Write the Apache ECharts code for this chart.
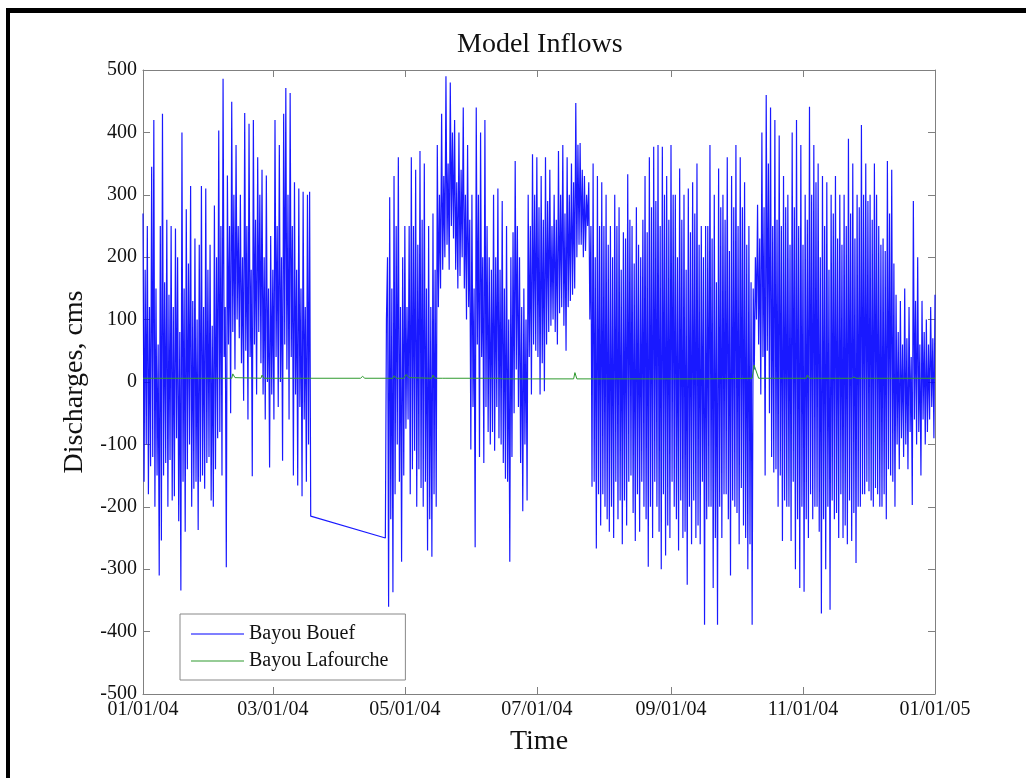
<!DOCTYPE html>
<html>
<head>
<meta charset="utf-8">
<script src="https://cdn.jsdelivr.net/npm/echarts@6/dist/echarts.min.js"></script>
<style>
html,body{margin:0;padding:0;background:#fff;}
#chart{width:1026px;height:778px;}
</style>
</head>
<body>
<div id="chart"></div>
<script>
// ---- data ----
const startYear = 2004;
const tickMonths = [[2004,0],[2004,2],[2004,4],[2004,6],[2004,8],[2004,10],[2005,0]];
const tickLabels = ['01/01/04','03/01/04','05/01/04','07/01/04','09/01/04','11/01/04','01/01/05'];
const yTicks = [-500,-400,-300,-200,-100,0,100,200,300,400,500];

// Bayou Bouef, values every half day (daily high, daily low)
const stepDays = 0.5;
// segment 1 starts day 0 (Jan 1)
const boeufSeg1Start = 0;
const boeufSeg1 = [
270,-160, 180,-100, 250,-180, 120,-135, 345,-120, 420,-200, 150,-150, 60,-310, 250,-254, 430,-150,
160,-130, 260,-200, 140,-125, 250,-190, 120,-183, 246,-90, 200,-223, 80,-334, 400,-160, 150,-240,
277,-140, 190,-100, 314,-200, 130,-171, 230,-160, 100,-237, 220,-160, 314,-150, 120,-171, 310,-130,
180,-120, 220,-190, 90,-200, 283,-140, 200,-90, 403,-80, 250,-150, 486,40, 120,-297, 331,60,
250,-50, 449,80, 300,20, 380,100, 250,70, 300,30, 200,-30, 431,50, 250,-60, 414,40,
180,-151, 420,60, 260,-20, 360,80, 300,30, 340,-20, 200,-60, 331,0, 150,-137, 234,-20,
180,-60, 420,40, 250,-40, 380,0, 200,-126, 430,60, 471,20, 300,-60, 463,40, 250,-150,
320,-20, 180,-166, 310,-40, 150,-183, 305,-60, 120,-160, 300,-100, 305,-215];
// segment 2 starts day 112 (Apr 22)
const boeufSeg2Start = 112;
const boeufSeg2 = [
-250,100, 200,-360, 296,-220, 150,-337, 330,-180, 250,-100, 360,-160, 120,-288, 200,-150, 250,-75,
120,-60, 250,-180, 360,-140, 250,-110, 340,-200, 220,-140, 370,-170, 260,-200, 350,-160, 150,-270,
250,-220, 120,-280, 270,-180, 180,-200, 380,120, 300,150, 430,180, 330,200, 490,220, 350,180,
480,250, 400,230, 420,180, 320,150, 400,170, 340,200, 440,150, 300,100, 380,120, 260,-108,
300,-40, 150,-265, 440,60, 300,-120, 400,40, 200,-130, 420,-40, 250,-80, 200,-100, 180,-80,
300,-110, 200,-40, 310,-90, 180,-100, 290,-130, 150,-155, 250,-160, 100,-288, 200,-120, 240,-50,
354,20, 250,-40, 200,-130, 120,-207, 150,-100, 100,-190, 300,40, 250,-20, 365,60, 300,50,
360,40, 280,-20, 330,30, 260,-15, 360,60, 290,80, 340,90, 250,100, 300,80, 260,60,
370,110, 300,120, 380,90, 270,50, 360,120, 300,130, 350,140, 320,150, 447,200, 380,220,
383,220, 340,200, 330,210, 300,250, 320,100, 250,-168, 350,-160, 200,-267, 330,-180, 250,-230,
320,-180, 250,-200, 300,-220, 220,-240, 250,-200, 200,-250, 300,-160, 250,-220, 280,-190, 180,-260,
240,-190, 230,-230, 333,-160, 260,-150, 250,-210, 190,-255, 280,-180, 220,-240, 200,-160, 260,-200,
330,-220, 240,-296, 360,-200, 280,-250, 377,-160, 290,-200, 380,-240, 250,-300, 377,-180, 300,-278,
330,-230, 260,-250, 380,-160, 300,-200, 300,-220, 200,-270, 342,-190, 260,-250, 300,-240, 180,-325,
310,-200, 240,-260, 320,-190, 270,-250, 350,-230, 220,-260, 250,-160, 200,-389, 250,-220, 250,-200,
380,-200, 230,-330, 300,-250, 160,-389, 342,-200, 280,-250, 300,-180, 260,-180, 360,-220, 210,-310,
330,-190, 280,-200, 380,-210, 250,-260, 360,-170, 280,-230, 320,-250, 220,-300, 250,-260, 160,-389,
150,20, 200,100, 284,60, 230,-20, 400,40, 280,-150, 460,50, 350,-50, 440,-120, 250,-145,
420,-140, 260,-200, 395,-150, 250,-255, 330,-190, 280,-200, 300,-200, 220,-255, 400,-160, 280,-300,
420,-220, 250,-330, 380,-200, 220,-336, 300,-220, 260,-250, 441,-180, 300,-220, 380,-200, 320,-200,
350,-240, 200,-371, 330,-220, 250,-300, 320,-200, 180,-365, 300,-190, 270,-220, 330,-210, 230,-250,
300,-180, 220,-250, 300,-230, 250,-260, 390,-190, 270,-255, 350,-210, 230,-290, 300,-200, 280,-200,
412,-180, 300,-180, 350,-160, 290,-175, 300,-190, 260,-200, 350,-170, 300,-180, 250,-200, 220,-200,
230,-180, 210,-220, 354,-140, 270,-150, 340,-160, 190,-200, 140,-100, 80,-140, 130,-90, 60,-120,
150,-100, 70,-140, 120,-80, 40,-197, 290,-60, 130,-100, 200,-80, 60,-150, 130,-60, 80,-100,
100,-80, 60,-60, 120,-40, 70,-90, 140];

// Bayou Lafourche: day offsets and values
const lafDays   = [0, 20, 36, 36.5, 37.5, 41, 41.5, 42.5, 54.5, 55, 56, 77, 100.5, 101.5, 102.5, 115.5, 116, 117, 120.5, 121.5, 123, 133.5, 134, 135, 138.5, 139, 140, 153.5, 154, 155, 164.5, 165, 166, 180, 199, 199.6, 200.5, 230, 260, 281.5, 282.4, 284.5, 306.5, 307, 308, 327.5, 328.5, 329.5, 366];
const lafValues = [6, 6, 6, 9, 6, 6, 13, 7, 6, 11, 6, 6, 6, 9, 6, 6, 10, 6, 6, 12, 7, 6, 11, 6, 6, 9, 6, 6, 9, 6, 6, 9, 5, 5, 5, 15, 5, 5, 5, 6, 27, 6, 6, 11, 6, 6, 8, 6, 6];

// ---- build ----
const DAY = 86400000;
const t0 = Date.UTC(startYear, 0, 1);
const tickDays = tickMonths.map(function(m){ return Math.round((Date.UTC(m[0], m[1], 1) - t0) / DAY); });
const labelMap = {};
tickDays.forEach(function(d, i){ labelMap[d] = tickLabels[i]; });

const boeufData = boeufSeg1.map(function(v, i){ return [boeufSeg1Start + i * stepDays, v]; })
  .concat(boeufSeg2.map(function(v, i){ return [boeufSeg2Start + i * stepDays, v]; }));
const lafData = lafDays.map(function(d, i){ return [d, lafValues[i]]; });

const FONT = 'Liberation Serif';
const AXC = '#808080';

const chart = echarts.init(document.getElementById('chart'), null, {renderer: 'canvas'});
chart.setOption({
  animation: false,
  backgroundColor: '#ffffff',
  title: {
    text: 'Model Inflows',
    left: 452, top: 26,
    textStyle: {fontFamily: FONT, fontSize: 28, fontWeight: 'normal', color: '#111'}
  },
  grid: {left: 143, right: 91, top: 70, bottom: 84, containLabel: false},
  legend: {
    orient: 'vertical',
    left: 180, top: 614,
    icon: 'rect', itemWidth: 53, itemHeight: 1,
    itemGap: 7,
    padding: [10, 17, 9, 11],
    borderColor: '#888', borderWidth: 1, backgroundColor: '#fff',
    textStyle: {fontFamily: FONT, fontSize: 20, color: '#111'},
    data: ['Bayou Bouef', 'Bayou Lafourche']
  },
  xAxis: [{
    type: 'value',
    min: tickDays[0], max: tickDays[tickDays.length - 1],
    name: 'Time', nameLocation: 'middle', nameGap: 34,
    nameTextStyle: {fontFamily: FONT, fontSize: 28, color: '#111'},
    axisLine: {show: true, onZero: false, lineStyle: {color: AXC, width: 1}},
    axisTick: {show: true, inside: true, length: 7, lineStyle: {color: AXC}, customValues: tickDays},
    axisLabel: {
      show: true, margin: 6, fontFamily: FONT, fontSize: 20, color: '#111',
      customValues: tickDays, showMinLabel: true, showMaxLabel: true,
      formatter: function(v){ return labelMap[v] !== undefined ? labelMap[v] : ''; }
    },
    splitLine: {show: false}
  }, {
    type: 'value', position: 'top',
    min: tickDays[0], max: tickDays[tickDays.length - 1],
    axisLine: {show: true, onZero: false, lineStyle: {color: AXC, width: 1}},
    axisTick: {show: true, inside: true, length: 7, lineStyle: {color: AXC}, customValues: tickDays},
    axisLabel: {show: false, customValues: tickDays},
    splitLine: {show: false}
  }],
  yAxis: [{
    type: 'value', min: yTicks[0], max: yTicks[yTicks.length - 1], interval: 100,
    name: 'Discharges, cms', nameLocation: 'middle', nameRotate: 90, nameGap: 54,
    nameTextStyle: {fontFamily: FONT, fontSize: 28, color: '#111'},
    axisLine: {show: true, onZero: false, lineStyle: {color: AXC, width: 1}},
    axisTick: {show: true, inside: true, length: 7, lineStyle: {color: AXC}},
    axisLabel: {margin: 6, fontFamily: FONT, fontSize: 20, color: '#111', showMinLabel: true, showMaxLabel: true},
    splitLine: {show: false}
  }, {
    type: 'value', position: 'right', min: yTicks[0], max: yTicks[yTicks.length - 1], interval: 100,
    axisLine: {show: true, onZero: false, lineStyle: {color: AXC, width: 1}},
    axisTick: {show: true, inside: true, length: 7, lineStyle: {color: AXC}},
    axisLabel: {show: false},
    splitLine: {show: false}
  }],
  series: [{
    name: 'Bayou Bouef', type: 'line', xAxisIndex: 0, yAxisIndex: 0,
    data: boeufData, showSymbol: false, symbol: 'none',
    color: '#0000ff',
    lineStyle: {color: '#0000ff', width: 1.2, opacity: 0.9},
    z: 2
  }, {
    name: 'Bayou Lafourche', type: 'line', xAxisIndex: 0, yAxisIndex: 0,
    data: lafData, showSymbol: false, symbol: 'none',
    color: '#2f9a2f',
    lineStyle: {color: '#2f9a2f', width: 1},
    z: 3
  }],
  graphic: [
    {type: 'rect', shape: {x: 6, y: 8, width: 4, height: 770}, style: {fill: '#000'}, silent: true},
    {type: 'rect', shape: {x: 6, y: 8, width: 1020, height: 5}, style: {fill: '#000'}, silent: true}
  ]
});
</script>
</body>
</html>
